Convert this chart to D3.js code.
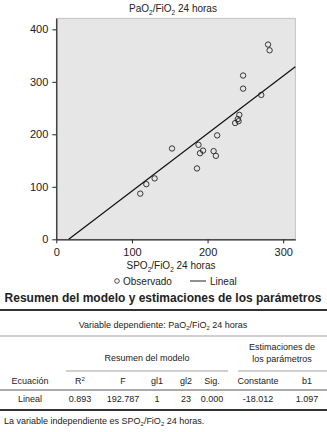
<!DOCTYPE html>
<html lang="es">
<head>
<meta charset="UTF-8">
<title>PaO2/FiO2 vs SPO2/FiO2</title>
<script src="https://d3js.org/d3.v7.min.js"></script>
<style>
  body { margin: 0; background: #fff; }
  text { font-family: "Liberation Sans", Arial, sans-serif; fill: #222; }
</style>
</head>
<body>
<script>
    const width = 327;
    const height = 432;

    // observed points (SPO2/FiO2, PaO2/FiO2)
    const spo2 = [280, 282, 247, 247, 271, 242, 240, 241, 236.5, 212.7, 153, 188, 194, 190, 208, 211, 186, 130, 119, 111];
    const pao2 = [371, 360, 312, 287, 275, 237, 229, 225, 221.5, 198, 173, 180, 169, 164, 168, 159, 135, 116, 105, 87];

    // model
    const constante = -18.012;
    const b1 = 1.097;

    const xTicks = [0, 100, 200, 300];
    const yTicks = [0, 100, 200, 300, 400];

    // table
    const headers = ["Ecuación", "R2", "F", "gl1", "gl2", "Sig.", "Constante", "b1"];
    const row = ["Lineal", "0.893", "192.787", "1", "23", "0.000", "-18.012", "1.097"];
    const colX = [30, 80, 123, 157, 186, 212, 258, 307];

    const svg = d3.select("body").append("svg")
            .attr("width", width).attr("height", height);

    const plot = {left: 56.3, right: 295.3, top: 18.3, bottom: 239.3};

    const x = d3.scaleLinear().domain([0, 316]).range([plot.left, plot.right]);
    const y = d3.scaleLinear().domain([0, 421]).range([plot.bottom, plot.top]);

    // helper to write "Pa O2 / Fi O2" style labels with subscripts
    function subText(sel, parts, size) {
        parts.forEach(function(p) {
            const t = sel.append("tspan").text(p[0]);
            if (p[1]) t.attr("font-size", size * 0.65).attr("dy", size * 0.25);
            else if (p[2]) t.attr("dy", -size * 0.25);
        });
    }
    const paoParts = [["PaO"], ["2", true], ["/FiO", false, true], ["2", true], [" 24 horas", false, true]];
    const spoParts = [["SPO"], ["2", true], ["/FiO", false, true], ["2", true], [" 24 horas", false, true]];

    // title
    const title = svg.append("text").attr("x", 173).attr("y", 12)
            .attr("text-anchor", "middle").attr("font-size", 10);
    subText(title, paoParts, 10);

    // plot background
    svg.append("rect")
            .attr("x", plot.left).attr("y", plot.top)
            .attr("width", plot.right - plot.left).attr("height", plot.bottom - plot.top)
            .style("fill", "#e6e6e6")
            .style("stroke", "#b5b5b5")
            .style("stroke-width", 0.8);

    // axes
    const xAxis = svg.append("g")
            .attr("transform", "translate(0," + plot.bottom + ")")
            .call(d3.axisBottom(x).tickValues(xTicks).tickSize(4).tickSizeOuter(0));
    const yAxis = svg.append("g")
            .attr("transform", "translate(" + plot.left + ",0)")
            .call(d3.axisLeft(y).tickValues(yTicks).tickSize(4).tickSizeOuter(0));
    [xAxis, yAxis].forEach(function(a) {
        a.select(".domain").style("stroke", "#222").style("stroke-width", 1.2);
        a.selectAll(".tick line").style("stroke", "#222");
        a.selectAll(".tick text").attr("font-size", 11)
                .attr("font-family", "Liberation Sans, Arial, sans-serif").style("fill", "#222");
    });
    xAxis.selectAll(".tick text").attr("dy", "0.9em");
    yAxis.selectAll(".tick text").attr("dx", "-1px");

    // regression line
    const x0 = -constante / b1;
    const x1 = 316;
    svg.append("line")
            .attr("x1", x(x0)).attr("y1", y(constante + b1 * x0))
            .attr("x2", x(x1)).attr("y2", y(constante + b1 * x1))
            .style("stroke", "#111").style("stroke-width", 1.2);

    // points
    svg.append("g").selectAll("circle")
            .data(spo2.map(function(d, i) { return [d, pao2[i]]; }))
            .enter().append("circle")
            .attr("cx", function(d) { return x(d[0]); })
            .attr("cy", function(d) { return y(d[1]); })
            .attr("r", 2.7)
            .style("fill", "none")
            .style("stroke", "#222")
            .style("stroke-width", 0.9);

    // x axis title
    const xt = svg.append("text").attr("x", 171).attr("y", 269)
            .attr("text-anchor", "middle").attr("font-size", 10);
    subText(xt, spoParts, 10);

    // legend
    svg.append("circle").attr("cx", 117).attr("cy", 281).attr("r", 2.3)
            .style("fill", "none").style("stroke", "#222").style("stroke-width", 0.8);
    svg.append("text").attr("x", 123).attr("y", 284.5).attr("font-size", 10).text("Observado");
    svg.append("line").attr("x1", 190).attr("x2", 206).attr("y1", 281).attr("y2", 281)
            .style("stroke", "#222").style("stroke-width", 1);
    svg.append("text").attr("x", 210).attr("y", 284.5).attr("font-size", 10).text("Lineal");

    // table heading
    svg.append("text").attr("x", 163).attr("y", 302)
            .attr("text-anchor", "middle").attr("font-size", 12).attr("font-weight", "bold")
            .text("Resumen del modelo y estimaciones de los parámetros");

    function hline(x1, x2, yy, w, c) {
        svg.append("line").attr("x1", x1).attr("x2", x2).attr("y1", yy).attr("y2", yy)
                .style("stroke", c).style("stroke-width", w);
    }
    hline(0, 327, 310, 1.8, "#333");

    const vd = svg.append("text").attr("x", 163).attr("y", 328)
            .attr("text-anchor", "middle").attr("font-size", 9);
    subText(vd, [["Variable dependiente: PaO"], ["2", true], ["/FiO", false, true], ["2", true], [" 24 horas", false, true]], 9);
    hline(0, 327, 336, 0.8, "#888");

    // group headings
    svg.append("text").attr("x", 147).attr("y", 361).attr("text-anchor", "middle")
            .attr("font-size", 9).text("Resumen del modelo");
    hline(66, 228, 371, 0.8, "#888");
    svg.append("text").attr("x", 282).attr("y", 350).attr("text-anchor", "middle")
            .attr("font-size", 9).text("Estimaciones de");
    svg.append("text").attr("x", 282).attr("y", 362).attr("text-anchor", "middle")
            .attr("font-size", 9).text("los parámetros");
    hline(238, 327, 371, 0.8, "#888");

    // header row
    headers.forEach(function(h, i) {
        const t = svg.append("text").attr("x", colX[i]).attr("y", 384)
                .attr("text-anchor", "middle").attr("font-size", 9);
        if (h === "R2") {
            t.append("tspan").text("R");
            t.append("tspan").text("2").attr("font-size", 6).attr("dy", -3);
        } else {
            t.text(h);
        }
    });
    hline(0, 327, 390, 0.9, "#444");

    row.forEach(function(v, i) {
        svg.append("text").attr("x", colX[i]).attr("y", 402)
                .attr("text-anchor", "middle").attr("font-size", 9).text(v);
    });
    hline(0, 327, 410, 1.8, "#333");

    const foot = svg.append("text").attr("x", 4).attr("y", 424).attr("font-size", 9);
    subText(foot, [["La variable independiente es SPO"], ["2", true], ["/FiO", false, true], ["2", true], [" 24 horas.", false, true]], 9);
</script>
</body>
</html>
